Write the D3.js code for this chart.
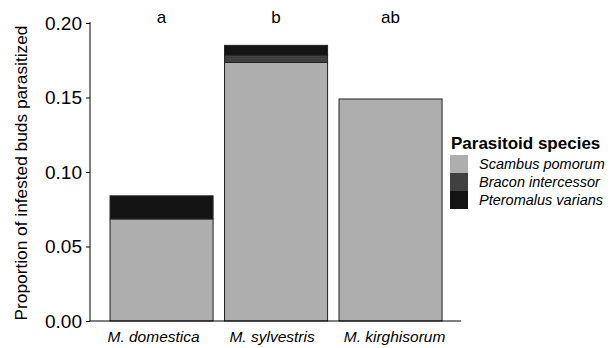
<!DOCTYPE html>
<html lang="en">
<head>
  <meta charset="utf-8">
  <title>Parasitoid species</title>
  <script src="https://cdn.jsdelivr.net/npm/d3@7"></script>
  <style>
    body { margin: 0; background: #fff; }
    text { font-family: "Liberation Sans", Arial, sans-serif; fill: #000; }
  </style>
</head>
<body>
  <svg id="chart" width="614" height="348"></svg>
  <script>
    // data
    var hosts = ["M. domestica", "M. sylvestris", "M. kirghisorum"];
    var species = ["Scambus pomorum", "Bracon intercessor", "Pteromalus varians"];
    var scambus = [0.0685, 0.1735, 0.149];
    var bracon = [0, 0.005, 0];
    var pteromalus = [0.0155, 0.0065, 0];
    var groupLetters = ["a", "b", "ab"];
    var yTicks = [0, 0.05, 0.10, 0.15, 0.20];
    var colors = ["#aeaeae", "#404040", "#141414"];

    var svg = d3.select("#chart");
    var x0 = 90, x1 = 461, yTop = 23, yBottom = 321;

    var rows = hosts.map(function (h, i) {
      return { host: h, "Scambus pomorum": scambus[i], "Bracon intercessor": bracon[i], "Pteromalus varians": pteromalus[i] };
    });
    var stack = d3.stack().keys(species)(rows);

    var x = d3.scaleBand().domain(hosts)
      .range([104.3, 447.8])
      .paddingInner(0.1)
      .paddingOuter(0.05);
    var y = d3.scaleLinear().domain([0, 0.20]).range([yBottom, yTop]);
    var color = d3.scaleOrdinal().domain(species).range(colors);

    // bars
    svg.append("g").selectAll("g")
      .data(stack)
      .enter().append("g")
      .attr("fill", function (d) { return color(d.key); })
      .selectAll("rect")
      .data(function (d) { return d.filter(function (s) { return s[1] - s[0] > 0; }); })
      .enter().append("rect")
      .attr("x", function (d) { return x(d.data.host); })
      .attr("width", x.bandwidth())
      .attr("y", function (d) { return y(d[1]); })
      .attr("height", function (d) { return y(d[0]) - y(d[1]); })
      .attr("stroke", "#222")
      .attr("stroke-width", 1);

    // y axis
    var yAxis = svg.append("g")
      .attr("transform", "translate(" + x0 + ",0)")
      .call(d3.axisLeft(y).tickValues(yTicks).tickFormat(d3.format(".2f")).tickSize(4).tickPadding(4));
    yAxis.select(".domain").attr("d", "M0," + (yTop - 1) + "V" + yBottom).attr("stroke", "#000");
    yAxis.selectAll("text").style("font-size", "19px").style("font-family", "Liberation Sans, Arial, sans-serif");

    // x axis (labels sit a little off-centre in the original)
    var nudge = [-8, -4, 4];
    var xAxis = svg.append("g")
      .attr("transform", "translate(0," + yBottom + ")")
      .call(d3.axisBottom(x).tickSize(0).tickPadding(10));
    xAxis.select(".domain").attr("d", "M" + x0 + ",0H" + x1).attr("stroke", "#000");
    xAxis.selectAll("text")
      .attr("dx", function (d, i) { return nudge[i]; })
      .style("font-size", "15.5px")
      .style("font-style", "italic")
      .style("font-family", "Liberation Sans, Arial, sans-serif");

    // y title
    svg.append("text")
      .attr("transform", "translate(27,173) rotate(-90)")
      .attr("text-anchor", "middle")
      .style("font-size", "17.3px")
      .text("Proportion of infested buds parasitized");

    // significance letters
    svg.append("g").selectAll("text")
      .data(hosts)
      .enter().append("text")
      .attr("x", function (d) { return x(d) + x.bandwidth() / 2; })
      .attr("y", 23)
      .attr("text-anchor", "middle")
      .style("font-size", "17px")
      .text(function (d, i) { return groupLetters[i]; });

    // legend
    var legend = svg.append("g").attr("transform", "translate(450,137)");
    legend.append("text")
      .attr("x", 1).attr("y", 12)
      .style("font-size", "17px")
      .style("font-weight", "bold")
      .text("Parasitoid species");
    var item = legend.selectAll(".item")
      .data(species)
      .enter().append("g")
      .attr("class", "item")
      .attr("transform", function (d, i) { return "translate(0," + (18 + i * 18) + ")"; });
    item.append("rect")
      .attr("width", 18).attr("height", 18)
      .attr("fill", function (d) { return color(d); });
    item.append("text")
      .attr("x", 29).attr("y", 14)
      .style("font-size", "14.5px")
      .style("font-style", "italic")
      .text(function (d) { return d; });
  </script>
</body>
</html>
